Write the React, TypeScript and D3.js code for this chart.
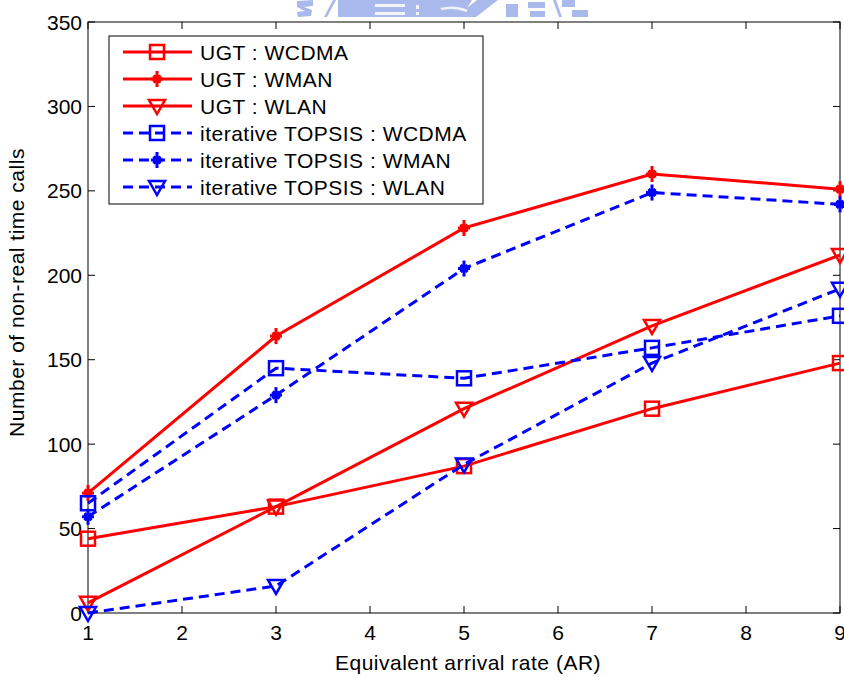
import React from "react";
import * as d3 from "d3";

const xValues = [1, 3, 5, 7, 9];
const ugtWCDMA = [44, 63, 87, 121, 148];
const ugtWMAN = [71, 164, 228, 260, 251];
const ugtWLAN = [6, 63, 121, 170, 212];
const topWCDMA = [65, 145, 139, 157, 176];
const topWMAN = [57, 129, 204, 249, 242];
const topWLAN = [0, 16, 88, 148, 192];

const xTicks = [1, 2, 3, 4, 5, 6, 7, 8, 9];
const yTicks = [0, 50, 100, 150, 200, 250, 300, 350];

const seriesNames = [
  "UGT : WCDMA",
  "UGT : WMAN",
  "UGT : WLAN",
  "iterative TOPSIS : WCDMA",
  "iterative TOPSIS : WMAN",
  "iterative TOPSIS : WLAN",
];
const seriesData = [ugtWCDMA, ugtWMAN, ugtWLAN, topWCDMA, topWMAN, topWLAN];
const seriesColor = ["#ff0000", "#ff0000", "#ff0000", "#0000ff", "#0000ff", "#0000ff"];
const seriesMarker = ["square", "star", "tri", "square", "star", "tri"];
const seriesDashed = [false, false, false, true, true, true];

const W = 844;
const H = 677;
const left = 88;
const right = 840;
const top = 22;
const bottom = 613;

const FONT = "'Liberation Sans', Arial, sans-serif";

function Marker({ type, x, y, color }: { type: string; x: number; y: number; color: string }) {
  if (type === "square") {
    return <rect x={x - 7} y={y - 7} width={14} height={14} fill="none" stroke={color} strokeWidth={2.5} />;
  }
  if (type === "tri") {
    const r = 8;
    const p = `M${x - r},${y - r * 0.75}L${x + r},${y - r * 0.75}L${x},${y + r}Z`;
    return <path d={p} fill="none" stroke={color} strokeWidth={2.5} strokeLinejoin="miter" />;
  }
  const d = 3.5;
  return (
    <g stroke={color} strokeWidth={3}>
      <line x1={x} y1={y - 8} x2={x} y2={y + 8} />
      <line x1={x - 6} y1={y} x2={x + 6} y2={y} />
      <line x1={x - d} y1={y - d} x2={x + d} y2={y + d} />
      <line x1={x - d} y1={y + d} x2={x + d} y2={y - d} />
      <circle cx={x} cy={y} r={4} fill={color} stroke="none" />
    </g>
  );
}

export default function App() {
  const xs = d3.scaleLinear().domain([1, 9]).range([left, right]);
  const ys = d3.scaleLinear().domain([0, 350]).range([bottom, top]);
  const line = d3
    .line<number>()
    .x((_, i) => xs(xValues[i]))
    .y((d) => ys(d));

  const legX = 109;
  const legY = 36;
  const legW = 374;
  const legH = 168;
  const rowY = (i: number) => 52 + i * 27;

  return (
    <div style={{ position: "fixed", left: 0, top: 0, width: W, height: H, background: "#fff" }}>
      <svg width={W} height={H} style={{ display: "block" }} fontFamily={FONT}>
        <rect x={0} y={0} width={W} height={H} fill="#fff" />
        {/* faint watermark at top */}
        <g fill="#a9b9ec">
          <path d="M297,1 L313,0 L313,6 L304,7 L312,10 L311,16 L298,17 L297,12 L305,11 L297,7 Z" />
          <path d="M333,0 L336,0 L327,17 L324,17 Z" />
          <path d="M338,0 L472,0 L462,17 L338,17 Z" />
          <path d="M477,0 L498,0 L476,17 L456,17 Z" />
          <path d="M506,4 L518,4 L518,17 L506,17 Z" />
          <path d="M528,2 L545,2 L545,8 L528,8 Z M530,11 L545,11 L545,17 L530,17 Z" />
          <path d="M553,0 L556,0 L562,17 L559,17 Z" />
          <path d="M562,0 L575,0 L575,7 L562,7 Z M572,10 L588,10 L588,17 L572,17 Z" />
        </g>
        <g fill="#ffffff" opacity={0.85}>
          <rect x={375} y={4} width={30} height={3} />
          <rect x={375} y={12} width={30} height={3} />
          <rect x={416} y={5} width={3} height={4} />
          <rect x={416} y={12} width={3} height={3} />
          <path d="M440,8 Q455,4 468,10 L466,12 Q455,7 442,10 Z" />
        </g>

        {/* axes box */}
        <rect x={left} y={top} width={right - left} height={bottom - top} fill="none" stroke="#000" strokeWidth={1} />

        {/* ticks */}
        {xTicks.map((t) => (
          <g key={"xt" + t}>
            <line x1={xs(t)} x2={xs(t)} y1={bottom} y2={bottom - 7} stroke="#000" />
            <line x1={xs(t)} x2={xs(t)} y1={top} y2={top + 7} stroke="#000" />
            <text x={xs(t)} y={bottom + 27} textAnchor="middle" fontSize={21} fill="#000">
              {t}
            </text>
          </g>
        ))}
        {yTicks.map((t) => (
          <g key={"yt" + t}>
            <line x1={left} x2={left + 7} y1={ys(t)} y2={ys(t)} stroke="#000" />
            <line x1={right} x2={right - 7} y1={ys(t)} y2={ys(t)} stroke="#000" />
            <text x={left - 6} y={ys(t) + 7.5} textAnchor="end" fontSize={21} fill="#000">
              {t}
            </text>
          </g>
        ))}

        {/* axis titles */}
        <text
          x={(left + right) / 2 + 4}
          y={670}
          textAnchor="middle"
          fontSize={21}
          letterSpacing={0.5}
          fill="#000"
        >
          Equivalent arrival rate (AR)
        </text>
        <text
          transform={`translate(24,${(top + bottom) / 2 - 25}) rotate(-90)`}
          textAnchor="middle"
          fontSize={21}
          letterSpacing={0.5}
          fill="#000"
        >
          Number of non-real time calls
        </text>

        {/* series */}
        {seriesData.map((data, si) => (
          <g key={"s" + si}>
            <path
              d={line(data) || ""}
              fill="none"
              stroke={seriesColor[si]}
              strokeWidth={3}
              strokeDasharray={seriesDashed[si] ? "10,6" : undefined}
            />
            {data.map((v, i) => (
              <Marker key={i} type={seriesMarker[si]} x={xs(xValues[i])} y={ys(v)} color={seriesColor[si]} />
            ))}
          </g>
        ))}

        {/* legend */}
        <rect x={legX} y={legY} width={legW} height={legH} fill="#fff" stroke="#000" strokeWidth={1} />
        {seriesNames.map((name, i) => (
          <g key={"l" + i}>
            <line
              x1={123}
              x2={192}
              y1={rowY(i)}
              y2={rowY(i)}
              stroke={seriesColor[i]}
              strokeWidth={3}
              strokeDasharray={seriesDashed[i] ? "10,6" : undefined}
            />
            <Marker type={seriesMarker[i]} x={157} y={rowY(i)} color={seriesColor[i]} />
            <text x={200} y={rowY(i) + 7.5} fontSize={21} letterSpacing={0.5} fill="#000">
              {name}
            </text>
          </g>
        ))}
      </svg>
    </div>
  );
}
